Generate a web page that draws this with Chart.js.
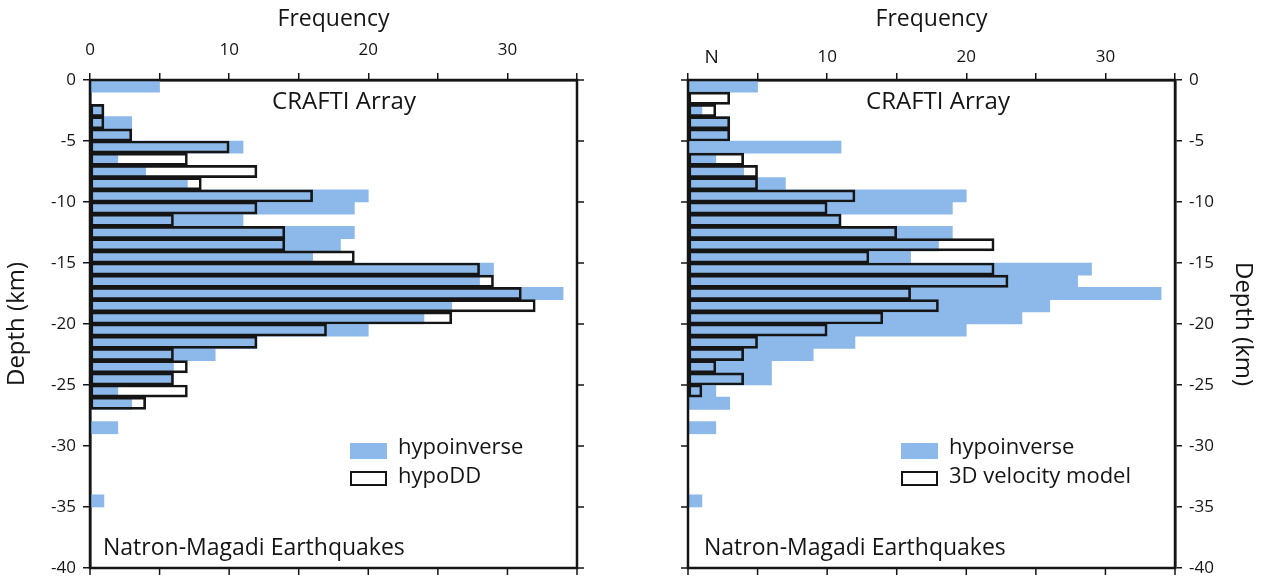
<!DOCTYPE html>
<html>
<head>
<meta charset="utf-8">
<script src="https://cdn.jsdelivr.net/npm/chart.js@4.4.1/dist/chart.umd.min.js"></script>
<style>
html,body{margin:0;padding:0;background:#fff;}
#wrap{position:relative;width:1263px;height:578px;}
.panel{position:absolute;top:0;height:578px;}
#left{left:0;width:632px;}
#right{left:632px;width:631px;}
</style>
</head>
<body>
<div id="wrap">
  <div class="panel" id="left"><canvas id="c1"></canvas></div>
  <div class="panel" id="right"><canvas id="c2"></canvas></div>
</div>
<script>
// 1 km depth bins (bin centres, km)
const depthBins = [-0.5,-1.5,-2.5,-3.5,-4.5,-5.5,-6.5,-7.5,-8.5,-9.5,
  -10.5,-11.5,-12.5,-13.5,-14.5,-15.5,-16.5,-17.5,-18.5,-19.5,
  -20.5,-21.5,-22.5,-23.5,-24.5,-25.5,-26.5,-27.5,-28.5,-29.5,
  -30.5,-31.5,-32.5,-33.5,-34.5,-35.5,-36.5,-37.5,-38.5,-39.5];

const hypoinverse = [5,0,1,3,3,11,2,4,7,20, 19,11,19,18,16,29,28,34,26,24,
  20,12,9,6,6,2,3,0,2,0, 0,0,0,0,1,0,0,0,0,0];
const hypoDD = [0,0,1,1,3,10,7,12,8,16, 12,6,14,14,19,28,29,31,32,26,
  17,12,6,7,6,7,4,0,0,0, 0,0,0,0,0,0,0,0,0,0];
const velocity3D = [0,3,2,3,3,0,4,5,5,12, 10,11,15,22,13,22,23,16,18,14,
  10,5,4,2,4,1,0,0,0,0, 0,0,0,0,0,0,0,0,0,0];

const depthTicks = [0,-5,-10,-15,-20,-25,-30,-35,-40];
const freqLabels = [0,10,20,30];

const BLUE = '#8cb9ea';
const INK = '#151515';
const FONT = "'Open Sans', 'DejaVu Sans', sans-serif";

function toPoints(vals) {
  return vals.map((v, i) => ({ x: v === 0 ? null : v, y: depthBins[i] }));
}

// box around the plot, mirrored ticks, notes and legend
const framePlugin = {
  id: 'frame',
  afterDraw(chart, args, o) {
    const { ctx, chartArea: a, scales } = chart;
    ctx.save();
    ctx.strokeStyle = INK;
    ctx.lineWidth = 1.5;
    ctx.beginPath();
    scales.x.ticks.forEach(t => {
      const px = scales.x.getPixelForValue(t.value);
      ctx.moveTo(px, a.bottom); ctx.lineTo(px, a.bottom + 7);
    });
    const ex = o.side === 'left' ? a.right : a.left;
    const dir = o.side === 'left' ? 1 : -1;
    scales.y.ticks.forEach(t => {
      const py = scales.y.getPixelForValue(t.value);
      ctx.moveTo(ex, py); ctx.lineTo(ex + dir * 7, py);
    });
    ctx.stroke();
    ctx.lineWidth = 2.5;
    ctx.strokeRect(a.left, a.top, a.right - a.left, a.bottom - a.top);

    ctx.fillStyle = INK;
    ctx.textBaseline = 'middle';
    ctx.font = '24px ' + FONT;
    ctx.textAlign = 'center';
    ctx.fillText('CRAFTI Array', o.titleX, 102);
    ctx.font = '23px ' + FONT;
    ctx.textAlign = 'left';
    ctx.fillText('Natron-Magadi Earthquakes', o.noteX, 548);

    // legend
    ctx.fillStyle = BLUE;
    ctx.fillRect(o.legX, 443, 37, 16);
    ctx.strokeStyle = INK;
    ctx.lineWidth = 2;
    ctx.strokeRect(o.legX + 1, 472, 35, 13);
    ctx.fillStyle = INK;
    ctx.font = '22px ' + FONT;
    ctx.fillText('hypoinverse', o.legX + 48, 448);
    ctx.fillText(o.outlineLabel, o.legX + 48, 477);

    if (o.nLabel) {
      ctx.font = '19px ' + FONT;
      ctx.textAlign = 'center';
      ctx.fillText('N', scales.x.getPixelForValue(1.7), 58);
    }
    ctx.restore();
  }
};

function makePanel(id, side, outline, outlineLabel, pos) {
  const isLeft = side === 'left';
  return new Chart(document.getElementById(id), {
    type: 'bar',
    data: {
      datasets: [
        {
          label: outlineLabel,
          data: toPoints(outline),
          backgroundColor: 'rgba(0,0,0,0)',
          borderColor: INK,
          borderWidth: 2,
          borderSkipped: false,
          order: 1
        },
        {
          label: 'hypoinverse',
          data: toPoints(hypoinverse),
          backgroundColor: BLUE,
          borderWidth: 0,
          order: 2
        }
      ]
    },
    plugins: [framePlugin],
    options: {
      indexAxis: 'y',
      responsive: true,
      maintainAspectRatio: false,
      animation: false,
      layout: {
        padding: isLeft ? { left: 0, top: 0, right: 55, bottom: 10 }
                        : { left: 56, top: 0, right: 0, bottom: 10 }
      },
      datasets: {
        bar: { grouped: false, categoryPercentage: 1, barPercentage: 1 }
      },
      scales: {
        x: {
          type: 'linear',
          position: 'top',
          min: 0,
          max: 35,
          afterFit: s => { s.height = 80; },
          border: { display: true, color: INK, width: 2.5 },
          grid: { drawOnChartArea: false, drawTicks: true, tickLength: 7, color: INK, lineWidth: 1.5 },
          ticks: {
            stepSize: 5,
            padding: isLeft ? 13 : 6,
            color: INK,
            font: { family: FONT, size: 17 },
            callback: v => (freqLabels.includes(v) && (isLeft || v !== 0)) ? String(v) : ''
          },
          title: {
            display: true,
            text: 'Frequency',
            color: INK,
            font: { family: FONT, size: 23 },
            padding: { top: 6, bottom: 0 }
          }
        },
        y: {
          type: 'linear',
          position: side,
          min: -40,
          max: 0,
          offset: false,
          afterFit: s => {
            s.width = isLeft ? 90 : 88;
            s.paddingTop = 0;
            s.paddingBottom = 0;
          },
          border: { display: true, color: INK, width: 2.5 },
          grid: { offset: false, drawOnChartArea: false, drawTicks: true, tickLength: 7, color: INK, lineWidth: 1.5 },
          afterBuildTicks: s => { s.ticks = depthTicks.map(v => ({ value: v })); },
          ticks: {
            padding: 7,
            color: INK,
            font: { family: FONT, size: 17 },
            callback: v => String(v)
          },
          title: {
            display: true,
            text: 'Depth (km)',
            color: INK,
            font: { family: FONT, size: 24 },
            padding: { top: isLeft ? 3 : 6, bottom: 0 }
          }
        }
      },
      plugins: {
        legend: { display: false },
        tooltip: { enabled: false },
        frame: Object.assign({ side: side, outlineLabel: outlineLabel }, pos)
      }
    }
  });
}

makePanel('c1', 'left', hypoDD, 'hypoDD', { titleX: 344, noteX: 103, legX: 350, nLabel: false });
makePanel('c2', 'right', velocity3D, '3D velocity model', { titleX: 938 - 632, noteX: 704 - 632, legX: 901 - 632, nLabel: true });
</script>
</body>
</html>
